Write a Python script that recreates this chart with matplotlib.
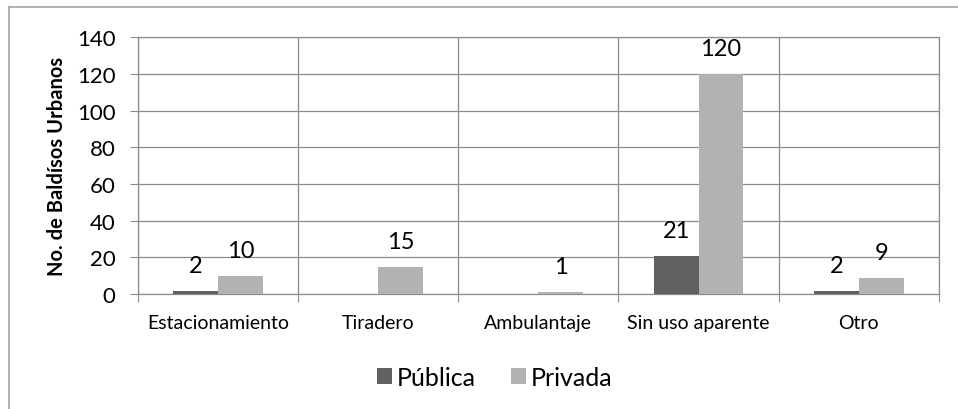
import matplotlib.pyplot as plt
import numpy as np
from matplotlib.lines import Line2D

categories = ['Estacionamiento', 'Tiradero', 'Ambulantaje', 'Sin uso aparente', 'Otro']
publica = [2, 0, 0, 21, 2]
privada = [10, 15, 1, 120, 9]
yticks = [0, 20, 40, 60, 80, 100, 120, 140]

plt.rcParams['font.family'] = ['Lato', 'DejaVu Sans']

fig = plt.figure(figsize=(9.58, 4.10), dpi=100)
ax = fig.add_axes([0.144, 0.280, 0.836, 0.627])

grid_col = '#8c8c8c'
dark = '#606060'
light = '#b2b2b2'
w = 0.28

x = np.arange(len(categories)) + 0.5
bars_pub = ax.bar(x - w / 2, publica, w, color=dark, label='Pública', zorder=3)
bars_pri = ax.bar(x + w / 2, privada, w, color=light, label='Privada', zorder=3)

# value labels, skipping empty bars
for bars, vals in ((bars_pub, publica), (bars_pri, privada)):
    for b, v in zip(bars, vals):
        if v == 0:
            continue
        ax.annotate(str(v), (b.get_x() + b.get_width() / 2, v),
                    xytext=(0, 19), textcoords='offset pixels',
                    ha='center', va='baseline', fontsize=17, color='black')

ax.set_xlim(0, len(categories))
ax.set_ylim(0, 140)
ax.set_yticks(yticks)
ax.tick_params(axis='y', labelsize=16, length=6, color=grid_col, pad=10)

# boundaries as major ticks (gridlines), names as minor ticks
ax.set_xticks(np.arange(len(categories) + 1))
ax.set_xticklabels([])
ax.set_xticks(x, minor=True)
ax.set_xticklabels(categories, minor=True, fontsize=14)
ax.tick_params(axis='x', which='major', length=6, color=grid_col)
ax.tick_params(axis='x', which='minor', length=0, pad=14)

ax.grid(True, axis='both', color=grid_col, linewidth=0.9, zorder=0)
for s in ax.spines.values():
    s.set_color(grid_col)
    s.set_linewidth(0.9)

ax.set_ylabel('No. de Baldísos Urbanos', fontsize=14.5, fontweight='bold', labelpad=7)

fig.legend(loc='center', bbox_to_anchor=(0.516, 0.078), ncol=2, frameon=False,
           fontsize=18, handlelength=0.6, handleheight=0.6, handletextpad=0.2,
           columnspacing=1.4)

# chart border (left and top edges)
fig.add_artist(Line2D([9 / 958, 9 / 958], [0, 1 - 8 / 410], color='#a6a6a6', lw=1.2,
                      transform=fig.transFigure))
fig.add_artist(Line2D([9 / 958, 1], [1 - 8 / 410, 1 - 8 / 410], color='#a6a6a6', lw=1.2,
                      transform=fig.transFigure))

fig.savefig('out.png', dpi=100)
